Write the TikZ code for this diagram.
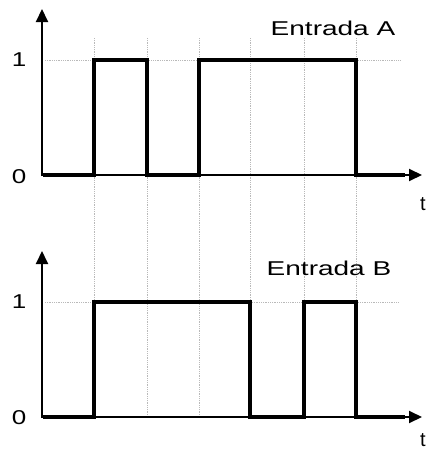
\documentclass[tikz,border=0pt]{standalone}
\usepackage{fontspec}
\setmainfont{Liberation Sans}
\usepackage{graphicx}
\usetikzlibrary{arrows.meta}

\begin{document}
\begin{tikzpicture}[x=1pt, y=-1pt,
  axis/.style={line width=2pt, -{Triangle[length=13pt,width=12pt]}},
  guide/.style={gray!55, densely dotted, line width=0.8pt},
  signal/.style={line width=4.5pt, line join=miter},
  lbl/.style={font=\fontsize{20}{20}\selectfont, inner sep=0pt}]
\useasboundingbox (0,0) rectangle (428,450);
% grid lines
\foreach \x in {94,147,199,250,304,356}
  \draw[guide] (\x,38) -- (\x,417);
\draw[guide] (45,60) -- (400,60);
\draw[guide] (45,302) -- (398,302);
% Entrada A
\draw[axis] (42,176) -- (42,9);
\draw[axis] (42,175) -- (422,175);
\draw[signal] (43,175) -- (94,175) -- (94,60) -- (147,60) -- (147,175) -- (199,175)
  -- (199,60) -- (356,60) -- (356,175) -- (405,175);
\node[lbl] (oneA) at (19,60) {\scalebox{1.3}[1]{1}};
\node[lbl] (zeroA) at (19,177) {\scalebox{1.3}[1]{0}};
\node[lbl] (tA) at (423,204) {t};
\node[lbl] (nameA) at (333,28) {\scalebox{1.4}[1]{Entrada A}};
% Entrada B
\draw[axis] (42,418) -- (42,251);
\draw[axis] (42,417) -- (422,417);
\draw[signal] (43,417) -- (94,417) -- (94,302) -- (250,302) -- (250,417) -- (304,417)
  -- (304,302) -- (356,302) -- (356,417) -- (405,417);
\node[lbl] (oneB) at (19,302) {\scalebox{1.3}[1]{1}};
\node[lbl] (zeroB) at (19,418) {\scalebox{1.3}[1]{0}};
\node[lbl] (tB) at (423,440) {t};
\node[lbl] (nameB) at (329,268) {\scalebox{1.4}[1]{Entrada B}};
\end{tikzpicture}
\end{document}
